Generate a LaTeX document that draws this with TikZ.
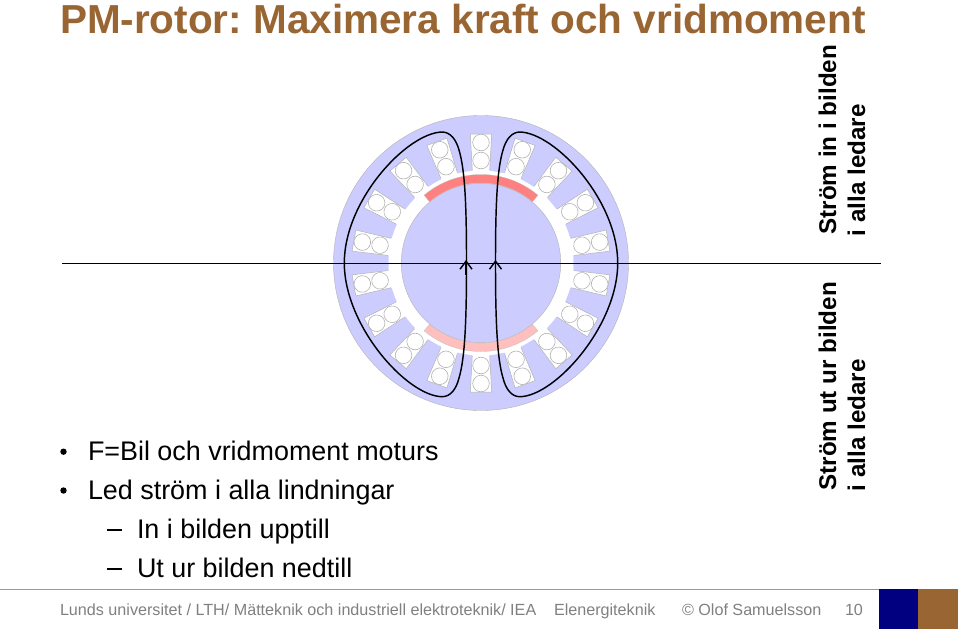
\documentclass[tikz,border=0pt]{standalone}
\usepackage{fontspec}
\setmainfont{Liberation Sans}
\usetikzlibrary{arrows.meta}
\definecolor{brownlth}{HTML}{996633}
\definecolor{navylth}{HTML}{000080}
\definecolor{ironblue}{HTML}{CCCCFF}
\frenchspacing
\tikzset{
	txt/.style={inner sep=0,outer sep=0,anchor=base west},
	bodytxt/.style={txt,font=\fontsize{26.9}{30}\selectfont},
	foottxt/.style={txt,font=\fontsize{16.15}{20}\selectfont,text=black!50},
	sidetxt/.style={txt,rotate=90,font=\bfseries\fontsize{24.2}{28}\selectfont},
	fieldline/.style={draw=black,line width=1.45pt},
	wire/.style={draw=black!30,fill=white,line width=0.6pt}
}
\begin{document}
\begin{tikzpicture}[x=1pt,y=-1pt]
	\useasboundingbox (0,0) rectangle (960,629);
	% stator, bore and rotor
	\filldraw[fill=ironblue,draw=black!30,line width=0.4pt] (481,263) circle (147.5);
	\fill[white] (481,263) circle (92.5);
	% slots with two conductors each
	\foreach \ang in {10,30,...,350}{
		\begin{scope}[shift={(481,263)},rotate=\ang]
			\fill[white] (91,-8.6) -- (129,-10.7) -- (129,10.7) -- (91,8.6) -- cycle;
			\draw[black!30,line width=0.5pt] (93,-8.7) -- (129,-10.7) -- (129,10.7) -- (93,8.7);
			\draw[wire] (120.5,0) circle (8.3);
			\draw[wire] (102.5,0) circle (8.3);
		\end{scope}
	}
	\filldraw[fill=ironblue,draw=black!30,line width=0.4pt] (481,263) circle (79.7);
	% magnets
	\filldraw[fill=red!50,draw=black!25,line width=0.3pt] (481,263) ++(-130:80) arc (-130:-50:80) -- ++(-50:8.5) arc (-50:-130:88.5) -- cycle;
	\filldraw[fill=red!25,draw=black!25,line width=0.3pt] (481,263) ++(130:80) arc (130:50:80) -- ++(50:8.5) arc (50:130:88.5) -- cycle;
	% field lines
	\draw[fieldline] (495.5,263) .. controls (495.5,205) and (497,170) .. (503,150)
		.. controls (506,139) and (512,132) .. (520,132)
		.. controls (555,133) and (617.7,200) .. (617.7,263)
		.. controls (617.7,326) and (555,396) .. (520,396.7)
		.. controls (512,396.7) and (506,390) .. (503,378)
		.. controls (497,358) and (495.5,320) .. (495.5,263);
	\draw[fieldline] (466.5,263) .. controls (466.5,205) and (465,170) .. (459,150)
		.. controls (456,139) and (450,132) .. (442,132)
		.. controls (407,133) and (344.3,200) .. (344.3,263)
		.. controls (344.3,326) and (407,396) .. (442,396.7)
		.. controls (450,396.7) and (456,390) .. (459,378)
		.. controls (465,358) and (466.5,320) .. (466.5,263);
	\draw[line width=1pt] (62,263) -- (881,263);
	\draw[fieldline,-{Straight Barb[length=8pt,width=12pt]}] (466,275) -- (466,260);
	\draw[fieldline,-{Straight Barb[length=8pt,width=12pt]}] (495.5,270) -- (495.5,260);
	% texts
	\node[txt,font=\bfseries\fontsize{40.5}{44}\selectfont,text=brownlth] (title) at (60,33) {PM-rotor: Maximera kraft och vridmoment};
	\node[sidetxt] (inA) at (836,234.5) {Ström in i bilden};
	\node[sidetxt] (inB) at (865,236) {i alla ledare};
	\node[sidetxt] (utA) at (836,490.5) {Ström ut ur bilden};
	\node[sidetxt] (utB) at (865,491) {i alla ledare};
	\fill (63.5,451.7) circle (3.2);
	\fill (63.5,490.5) circle (3.2);
	\fill (106.7,528.5) rectangle (121.7,530.5);
	\fill (106.7,567.5) rectangle (121.7,569.5);
	\node[bodytxt] (line1) at (88,460.5) {F=Bil och vridmoment moturs};
	\node[bodytxt] (line2) at (88,499.5) {Led ström i alla lindningar};
	\node[bodytxt] (line3) at (137,538.3) {In i bilden upptill};
	\node[bodytxt] (line4) at (137,577.2) {Ut ur bilden nedtill};
	% footer
	\draw[black!40,line width=1pt] (0,589) -- (879,589);
	\node[foottxt] (foot1) at (60,615) {Lunds universitet / LTH/ Mätteknik och industriell elektroteknik/ IEA};
	\node[foottxt] (foot2) at (554,615) {Elenergiteknik};
	\node[foottxt] (foot3) at (682,615) {© Olof Samuelsson};
	\node[foottxt] (foot4) at (845,615) {10};
	\fill[navylth] (879,589) rectangle (918.3,629);
	\fill[brownlth] (918.3,589) rectangle (957.7,629);
\end{tikzpicture}
\end{document}
